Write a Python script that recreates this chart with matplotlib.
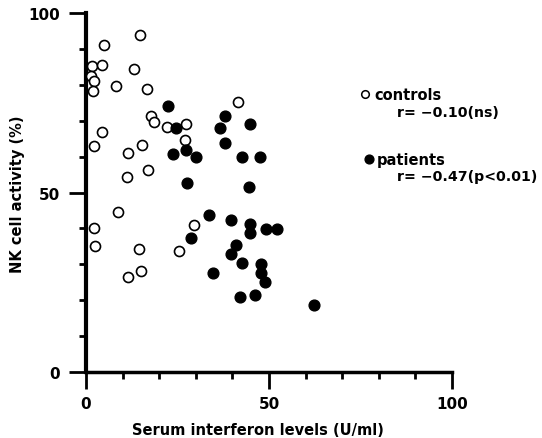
import numpy as np
import matplotlib
matplotlib.use("Agg")
import matplotlib.pyplot as plt

# ── Data ─────────────────────────────────────────────────────────────────────
controls_x = [14.7, 5.0, 1.7, 4.4, 13.0, 1.3, 2.3, 1.9, 8.2, 16.6, 41.6, 17.7, 18.6,
              22.2, 27.4, 27.0, 4.3, 2.2, 15.3, 11.5, 16.9, 11.1, 8.7, 2.1, 2.4,
              14.4, 11.4, 15.0, 25.5, 29.4]
controls_y = [93.8, 91.0, 85.3, 85.4, 84.4, 82.4, 81.1, 78.2, 79.8, 78.7, 75.3, 71.2, 69.6,
              68.3, 69.0, 64.5, 66.9, 63.0, 63.3, 60.9, 56.4, 54.2, 44.6, 40.0, 35.1,
              34.2, 26.5, 28.0, 33.8, 41.0]

patients_x = [22.3, 24.7, 38.0, 36.6, 44.8, 38.1, 23.8, 27.2, 30.0, 42.7, 47.5, 27.6,
              44.4, 33.6, 39.5, 44.7, 44.9, 49.1, 52.2, 28.8, 40.9, 39.6, 42.5, 34.7,
              47.7, 47.7, 48.8, 42.1, 46.3, 62.4]
patients_y = [74.2, 67.9, 71.3, 67.9, 69.1, 63.9, 60.7, 61.7, 59.9, 60.0, 59.9, 52.7,
              51.6, 43.7, 42.3, 41.2, 38.6, 39.7, 39.7, 37.2, 35.4, 32.9, 30.3, 27.6,
              30.0, 27.5, 25.0, 21.0, 21.5, 18.8]

xticks_major = [0, 50, 100]
yticks_major = [0, 50, 100]

fig = plt.figure(figsize=(5.42, 4.39), dpi=100)
ax = fig.add_axes([86 / 542, (439 - 373) / 439, 366 / 542, 359 / 439])

ax.scatter(controls_x, controls_y, s=52, facecolors="white", edgecolors="black",
           linewidths=1.2, clip_on=False, zorder=3)
ax.scatter(patients_x, patients_y, s=60, color="black", clip_on=False, zorder=3)

ax.set_xlim(0, 100)
ax.set_ylim(0, 100)
for s in ["top", "right"]:
    ax.spines[s].set_visible(False)
ax.spines["left"].set_linewidth(3)
ax.spines["bottom"].set_linewidth(2.5)

ax.set_xticks(xticks_major)
ax.set_yticks(yticks_major)
ax.set_xticks(np.arange(0, 101, 10), minor=True)
ax.set_yticks(np.arange(0, 101, 10), minor=True)
ax.tick_params(which="major", length=12, width=2, direction="out")
ax.tick_params(which="minor", length=5, width=2, direction="out")
ax.tick_params(axis="x", which="major", pad=5)
ax.tick_params(axis="y", which="major", pad=7)
for lab in ax.get_xticklabels() + ax.get_yticklabels():
    lab.set_fontweight("bold")
    lab.set_fontsize(11)

ax.set_xlabel("Serum interferon levels (U/ml)", fontsize=10.5, fontweight="bold")
ax.set_ylabel("NK cell activity (%)", fontsize=10.5, fontweight="bold")
ax.xaxis.set_label_coords(0.47, -0.159)
ax.xaxis.label.set_va("center")
ax.yaxis.set_label_coords(-0.186, 0.497)
ax.yaxis.label.set_va("center")

# legend-like annotations
ax.scatter([76.2], [77.3], s=30, facecolors="white", edgecolors="black", linewidths=1.1,
           clip_on=False)
ax.text(78.8, 77.3, "controls", fontsize=10.5, fontweight="bold", va="center")
ax.text(85.0, 72.4, "r= \u22120.10(ns)", fontsize=10.2, fontweight="bold", va="center")
ax.scatter([77.3], [59.2], s=40, color="black", clip_on=False)
ax.text(79.5, 59.2, "patients", fontsize=10.5, fontweight="bold", va="center")
ax.text(85.0, 54.6, "r= \u22120.47(p<0.01)", fontsize=10.2, fontweight="bold", va="center")

fig.savefig("out.png", dpi=100)
